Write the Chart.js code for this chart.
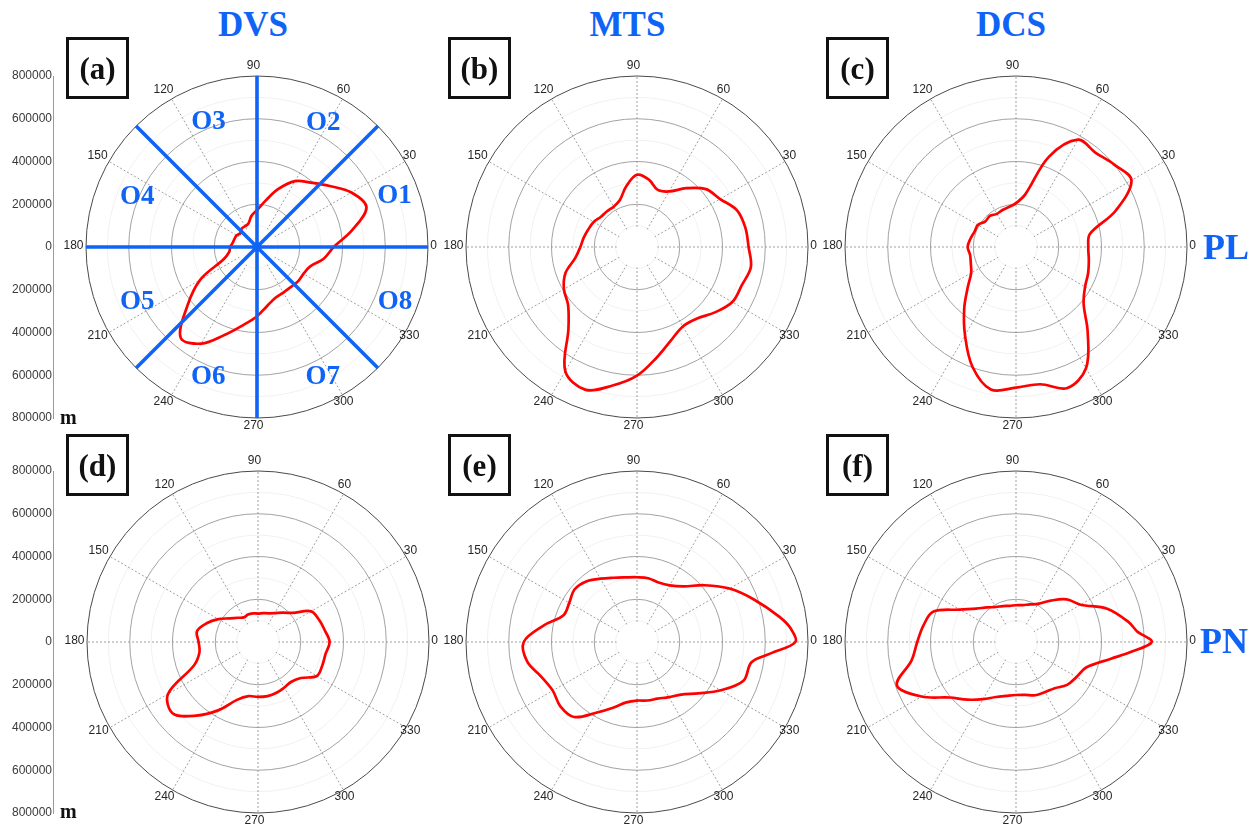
<!DOCTYPE html>
<html>
<head>
<meta charset="utf-8">
<title>Polar extent of structures</title>
<script src="https://cdn.jsdelivr.net/npm/chart.js@4.4.1/dist/chart.umd.min.js"></script>
<style>
  html, body { margin: 0; padding: 0; background: #fff; }
  #stage { position: relative; width: 1256px; height: 828px; overflow: hidden; background: #fff; }
  #stage canvas { position: absolute; }
  .tag { position: absolute; box-sizing: border-box; width: 63px; height: 62px; border: 3px solid #111;
         display: flex; align-items: center; justify-content: center;
         font: bold 31px/1 "Liberation Serif", serif; color: #111; z-index: 2; }
  .title { position: absolute; font: bold 35px/1 "Liberation Serif", serif; color: #0f64f5; white-space: nowrap; z-index: 2; }
  .side { position: absolute; font: bold 36px/1 "Liberation Serif", serif; color: #0f64f5; white-space: nowrap; z-index: 2; }
  .unit { position: absolute; font: bold 20px/1 "Liberation Serif", serif; color: #111; z-index: 2; }
</style>
</head>
<body>
<div id="stage"></div>
<script>
// ---- scale definition (metres) ----
const R_MAX = 800000;
const RING_STEP = 100000;
const HUB_VALUE = 100000;            // spokes start outside this radius
const SPOKE_LABELS = [0, 30, 60, 90, 120, 150, 180, 210, 240, 270, 300, 330];
const AXIS_TICKS = [800000, 600000, 400000, 200000, 0, -200000, -400000, -600000, -800000];

// ---- sampled directions (degrees, counter-clockwise from east) ----
const ANGLES_10 = [0, 10, 20, 30, 40, 50, 60, 70, 80, 90, 100, 110, 120, 130, 140, 150, 160, 170,
                   180, 190, 200, 210, 220, 230, 240, 250, 260, 270, 280, 290, 300, 310, 320, 330, 340, 350];
const ANGLES_TIP = [0, 5, 10, 20, 30, 40, 50, 60, 70, 80, 90, 100, 110, 120, 130, 140, 150, 160, 170,
                    180, 190, 200, 210, 220, 230, 240, 250, 260, 270, 280, 290, 300, 310, 320, 330, 340, 350, 355];

// ---- extent per direction, PL row ----
const dvsPL = [359000, 452000, 545000, 510000, 444000, 393000, 356000, 288000, 218000, 172000,
               148000, 117000, 112000, 112000, 101000, 109000, 112000, 115000, 125000, 132000,
               165000, 307000, 424000, 555000, 522000, 437000, 371000, 324000, 279000, 253000,
               246000, 245000, 250000, 251000, 265000, 317000];
const mtsPL = [522000, 515000, 499000, 449000, 421000, 359000, 300000, 284000, 320000, 338000,
               289000, 234000, 218000, 218000, 220000, 234000, 242000, 253000, 265000, 293000,
               356000, 395000, 421000, 499000, 671000, 710000, 658000, 602000, 526000, 465000,
               429000, 437000, 476000, 515000, 522000, 541000];
const dcsPL = [338000, 351000, 496000, 624000, 600000, 577000, 580000, 449000, 250000, 205000,
               190000, 184000, 179000, 190000, 187000, 206000, 207000, 217000, 226000, 218000,
               225000, 242000, 295000, 377000, 477000, 596000, 677000, 658000, 652000, 702000,
               655000, 522000, 413000, 373000, 359000, 346000];

// ---- extent per direction, PN row ----
const dvsPN = [335000, 317000, 304000, 287000, 212000, 179000, 156000, 143000, 137000, 133000,
               136000, 137000, 133000, 148000, 172000, 214000, 256000, 290000, 278000, 278000,
               318000, 486000, 520000, 450000, 368000, 288000, 257000, 257000, 257000, 253000,
               246000, 243000, 262000, 318000, 320000, 321000];
const mtsPN = [741000, 722000, 677000, 582000, 500000, 413000, 340000, 306000, 296000, 303000, 303000,
               307000, 320000, 342000, 370000, 382000, 366000, 366000, 444000, 530000,
               522000, 476000, 455000, 468000, 458000, 382000, 327000, 287000, 274000, 278000,
               282000, 298000, 321000, 374000, 452000, 530000, 544000, 625000];
const dcsPN = [635000, 569000, 535000, 454000, 349000, 310000, 253000, 206000, 187000, 175000, 172000,
               172000, 179000, 189000, 211000, 243000, 303000, 413000, 440000, 462000,
               496000, 593000, 510000, 404000, 352000, 309000, 274000, 256000, 248000, 251000,
               265000, 271000, 282000, 312000, 327000, 349000, 451000, 538000];

// ---- octant overlay for DVS / PL ----
const OCTANT_LINES = [0, 45, 90, 135, 180, 225, 270, 315];
const OCTANT_NAMES = ['O1', 'O2', 'O3', 'O4', 'O5', 'O6', 'O7', 'O8'];
const OCTANT_NAME_ANGLES = [20.9, 62.2, 111, 156.4, 203.8, 249.2, 297.1, 339.1];
const OCTANT_NAME_RADII = [688000, 664000, 634000, 611000, 612000, 642000, 675000, 691000];

// ---- styling ----
const BLUE = '#0f64f5';
const RED = '#ff0000';
const RADIUS_PX = 171;
const PAD = 24;
const SIZE = 2 * (RADIUS_PX + PAD);
const STEP = 5;                       // angular slot width of the radial category axis
const SLOT_COUNT = 360 / STEP;
const LABEL_RADIUS = 180 / 171;
const LABEL_SHIFT_X = -3.5;
const LABEL_SHIFT_Y = -2.3;

// slot i runs clockwise from east, so slot i is the direction (360 - i*STEP) deg
const SLOT_LABELS = Array.from({ length: SLOT_COUNT }, (_, i) => String((360 - i * STEP) % 360));
const slotOf = a => ((360 - a) % 360) / STEP;

function toSlots(angles, values, fillValue) {
  const slots = new Array(SLOT_COUNT).fill(fillValue);
  angles.forEach((a, k) => { slots[slotOf(a)] = values[k]; });
  return slots;
}

function ringColor(v) {
  if (v === R_MAX) return '#4a4a4a';
  if (v % 200000 === 0) return '#a2a2a2';
  return '#f1f1f1';
}

const hubPlugin = {
  id: 'hub',
  beforeDatasetsDraw(chart) {
    const r = chart.scales.r, ctx = chart.ctx;
    ctx.save();
    ctx.fillStyle = '#fff';
    ctx.beginPath();
    ctx.arc(r.xCenter, r.yCenter, r.getDistanceFromCenterForValue(HUB_VALUE) - 1, 0, Math.PI * 2);
    ctx.fill();
    ctx.restore();
  }
};

const spokeLabelPlugin = {
  id: 'spokeLabels',
  afterDraw(chart) {
    const r = chart.scales.r, ctx = chart.ctx;
    ctx.save();
    ctx.font = '12px "Liberation Sans", Arial, sans-serif';
    ctx.fillStyle = '#262626';
    ctx.textAlign = 'center';
    ctx.textBaseline = 'alphabetic';
    const d = r.drawingArea * LABEL_RADIUS;
    SPOKE_LABELS.forEach(a => {
      const t = a * Math.PI / 180;
      const x = r.xCenter + d * Math.cos(t) + LABEL_SHIFT_X;
      const y = r.yCenter - d * Math.sin(t) + LABEL_SHIFT_Y + 4.3;
      ctx.fillText(String(a), x, y);
    });
    ctx.restore();
  }
};

const octantNamePlugin = {
  id: 'octantNames',
  afterDatasetsDraw(chart, args, opts) {
    if (!opts.show) return;
    const r = chart.scales.r, ctx = chart.ctx;
    ctx.save();
    ctx.font = 'bold 27px "Liberation Serif", serif';
    ctx.fillStyle = BLUE;
    ctx.textAlign = 'center';
    ctx.textBaseline = 'alphabetic';
    OCTANT_NAMES.forEach((name, k) => {
      const t = OCTANT_NAME_ANGLES[k] * Math.PI / 180;
      const d = r.getDistanceFromCenterForValue(OCTANT_NAME_RADII[k]);
      ctx.fillText(name, r.xCenter + d * Math.cos(t), r.yCenter - d * Math.sin(t) + 0.331 * 27);
    });
    ctx.restore();
  }
};

const stage = document.getElementById('stage');

function polarPanel(cx, cy, angles, values, withOctants) {
  const canvas = document.createElement('canvas');
  canvas.width = SIZE; canvas.height = SIZE;
  canvas.style.left = (cx - SIZE / 2) + 'px';
  canvas.style.top = (cy - SIZE / 2) + 'px';
  stage.appendChild(canvas);

  const datasets = [{
    data: toSlots(angles, values, null),
    borderColor: RED, borderWidth: 2.7, fill: false,
    tension: 0.35, spanGaps: true, pointRadius: 0, order: 2
  }];
  if (withOctants) {
    datasets.push({
      data: toSlots(OCTANT_LINES, OCTANT_LINES.map(() => R_MAX), 0),
      borderColor: BLUE, borderWidth: 3.6, fill: false, tension: 0,
      borderJoinStyle: 'bevel', pointRadius: 0, order: 1
    });
  }

  new Chart(canvas, {
    type: 'radar',
    data: { labels: SLOT_LABELS, datasets },
    options: {
      responsive: false, animation: false, events: [],
      layout: { padding: PAD },
      plugins: { legend: { display: false }, tooltip: { enabled: false }, octantNames: { show: withOctants } },
      elements: { point: { radius: 0, hoverRadius: 0 } },
      scales: {
        r: {
          min: 0, max: R_MAX, startAngle: 90,
          ticks: { display: false, stepSize: RING_STEP },
          pointLabels: { display: false },
          grid: { circular: true, color: c => ringColor(c.tick.value), lineWidth: 1 },
          angleLines: {
            display: true, color: '#a0a0a0', borderDash: [2, 2],
            lineWidth: c => (Number(SLOT_LABELS[c.index]) % 30 === 0 ? 1 : 0)
          }
        }
      }
    },
    plugins: [hubPlugin, spokeLabelPlugin, octantNamePlugin]
  });
}

function radiusAxis(cy) {
  const pad = 10;
  const canvas = document.createElement('canvas');
  canvas.width = 60; canvas.height = 2 * RADIUS_PX + 2 * pad;
  canvas.style.left = '0px';
  canvas.style.top = (cy - RADIUS_PX - pad) + 'px';
  stage.appendChild(canvas);
  new Chart(canvas, {
    type: 'line',
    data: { labels: [], datasets: [] },
    options: {
      responsive: false, animation: false, events: [],
      layout: { padding: { top: pad, bottom: pad, left: 0, right: 0 } },
      plugins: { legend: { display: false }, tooltip: { enabled: false } },
      scales: {
        x: { display: false },
        y: {
          min: -R_MAX, max: R_MAX,
          afterBuildTicks: s => { s.ticks = AXIS_TICKS.map(v => ({ value: v })); },
          ticks: { callback: v => String(Math.abs(v)), font: { family: 'Liberation Sans', size: 12 }, color: '#3a3a3a', padding: 1 },
          grid: { display: false, drawTicks: false },
          border: { display: true, color: '#9a9a9a', width: 1 },
          afterFit: s => { s.width = 53; }
        }
      }
    }
  });
}

function addText(cls, text, left, top, center) {
  const el = document.createElement('div');
  el.className = cls;
  el.textContent = text;
  el.style.left = left + 'px';
  el.style.top = top + 'px';
  if (center) el.style.transform = 'translateX(-50%)';
  stage.appendChild(el);
}

// panels: PL row on top, PN row below
polarPanel(257, 247, ANGLES_10, dvsPL, true);
polarPanel(637, 247, ANGLES_10, mtsPL, false);
polarPanel(1016, 247, ANGLES_10, dcsPL, false);
polarPanel(258, 642, ANGLES_10, dvsPN, false);
polarPanel(637, 642, ANGLES_TIP, mtsPN, false);
polarPanel(1016, 642, ANGLES_TIP, dcsPN, false);

radiusAxis(247);
radiusAxis(642);

addText('title', 'DVS', 253, 6.7, true);
addText('title', 'MTS', 627.5, 6.7, true);
addText('title', 'DCS', 1011, 6.7, true);
addText('side', 'PL', 1203, 229.2, false);
addText('side', 'PN', 1200, 623.2, false);
addText('unit', 'm', 60, 406.5, false);
addText('unit', 'm', 60, 801, false);

[['(a)', 66, 37], ['(b)', 448, 37], ['(c)', 826, 37],
 ['(d)', 66, 434], ['(e)', 448, 434], ['(f)', 826, 434]].forEach(([t, l, tp]) => addText('tag', t, l, tp, false));
</script>
</body>
</html>
